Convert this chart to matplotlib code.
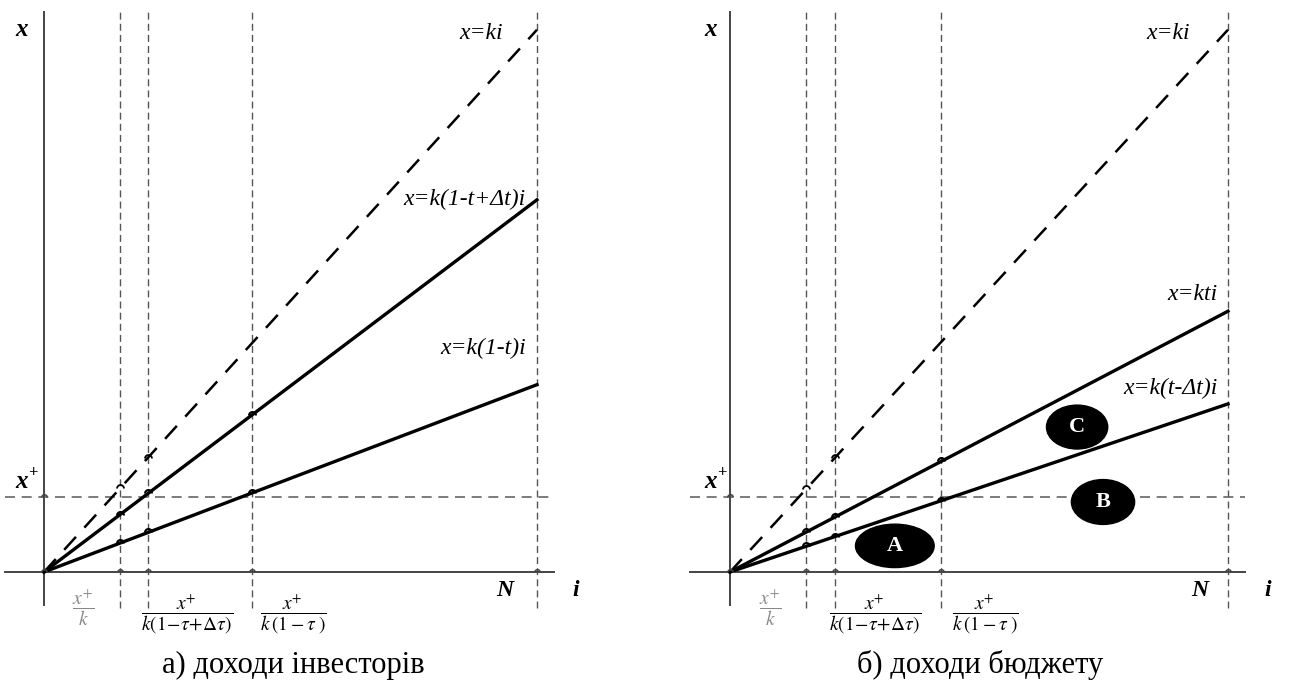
import matplotlib
matplotlib.use("Agg")
import matplotlib.pyplot as plt
import numpy as np
from matplotlib.path import Path
from matplotlib.patches import Ellipse

plt.rcParams['font.family'] = ['Liberation Serif', 'DejaVu Serif']
plt.rcParams['mathtext.fontset'] = 'stix'

# ---------------- data ----------------
N = 10.0
x_plus = 1.52
# vertical reference positions (i values)
left_marks = [1.54, 2.11, 4.22]
right_marks = [1.53, 2.11, 4.24]
# slopes of lines
left_slope_ki = 1.10
left_slopes = [0.755, 0.38]          # k(1-t+Δt), k(1-t)
left_labels = ['x=k(1-t+Δt)i', 'x=k(1-t)i']
right_slope_ki = 1.10
right_slopes = [0.529, 0.341]        # kt, k(t-Δt)
right_labels = ['x=kti', 'x=k(t-Δt)i']
ellipse_labels = ['A', 'B', 'C']
ellipse_centers = [(3.31, 0.53), (7.49, 1.42), (6.97, 2.94)]
ellipse_sizes = [(1.58, 0.88), (1.27, 0.91), (1.23, 0.89)]
frac_labels = [r'$\dfrac{x^{+}}{k}$',
               r'$\dfrac{x^{+}}{k\left(1\!-\!\tau\!+\!\Delta\tau\right)}$',
               r'$\dfrac{x^{+}}{k\,\left(1-\tau\;\right)}$']
captions = ['а) доходи інвесторів', 'б) доходи бюджету']

W, H = 1297, 691
fig = plt.figure(figsize=(W / 100, H / 100), dpi=100)

hop = Path.arc(0, 180)

def panel(left_px, right_px, origin_px, pxu_x, marks, slope_ki, slopes, labels,
          label_pos, frac_pos):
    ax = fig.add_axes([left_px / W, 0, (right_px - left_px) / W, 1])
    pxu_y = 49.3
    ax.set_xlim((left_px - origin_px) / pxu_x, (right_px - origin_px) / pxu_x)
    ax.set_ylim((572 - H) / pxu_y, 572 / pxu_y)
    ax.axis('off')
    top = 11.36
    bot_axis = -0.67
    bot_dash = -0.73
    xl, xr = -0.80, 10.35
    axc = '#444444'
    # axes
    ax.plot([xl, xr], [0, 0], color=axc, lw=1.4, zorder=2)
    ax.plot([0, 0], [bot_axis, top], color=axc, lw=1.4, zorder=2)
    # dashed reference lines
    for m in marks + [N]:
        ax.plot([m, m], [bot_dash, top], color='#555555', lw=1.0,
                dashes=(5, 3), zorder=1)
    ax.plot([xl, xr], [x_plus, x_plus], color='#666666', lw=1.2,
            dashes=(6, 4), zorder=1)
    # rays
    ii = np.array([0, N])
    ax.plot(ii, slope_ki * ii, color='black', lw=1.8, dashes=(7, 5), zorder=3)
    for s in slopes:
        ax.plot(ii, s * ii, color='black', lw=2.4, zorder=3)
    # hops
    hx = [0] + marks + [N]
    ax.plot(hx, [0] * len(hx), ls='none', marker=hop, ms=4, mfc='none',
            mec=axc, mew=1.1, zorder=4)
    ax.plot([0], [x_plus], ls='none', marker=hop, ms=4, mfc='none',
            mec=axc, mew=1.1, zorder=4)
    for s in slopes:
        m = np.array(marks)
        ax.plot(m, s * m, ls='none', marker=hop, ms=5, mfc='none',
                mec='black', mew=1.5, zorder=4)
    m = np.array(marks[:2])
    ax.plot(m, slope_ki * m, ls='none', marker=hop, ms=5, mfc='none',
            mec='black', mew=1.3, zorder=4)
    # labels
    fs = 17
    bx = label_pos['x']
    ax.text(bx, 11.0, 'x', fontsize=18, fontweight='bold',
            style='italic', ha='center', va='center')
    ax.text(bx, 1.83, 'x', fontsize=18, fontweight='bold', style='italic',
            ha='center', va='center')
    ax.text(bx + 0.23, 2.0, '+', fontsize=12, fontweight='bold',
            ha='center', va='center')
    ax.text(label_pos['ki'], 10.93, 'x=ki', fontsize=fs, style='italic',
            ha='right', va='center')
    for (px, py), lab in zip(label_pos['lines'], labels):
        ax.text(px, py, lab, fontsize=fs, style='italic', ha='right', va='center')
    ax.text(label_pos['N'], -0.385, 'N', fontsize=17, fontweight='bold',
            style='italic', ha='center', va='center')
    ax.text(label_pos['i'], -0.385, 'i', fontsize=17, fontweight='bold',
            style='italic', ha='center', va='center')
    cols = ['#888888', 'black', 'black']
    for (fx, fy), lab, c in zip(frac_pos, frac_labels, cols):
        ax.text(fx, fy, lab, fontsize=14, color=c, ha='center', va='center')
    return ax

axL = panel(0, 640, 44, 49.3, left_marks, left_slope_ki, left_slopes, left_labels,
            {'x': -0.45, 'ki': 9.31, 'lines': [(9.76, 7.55), (9.78, 4.54)],
             'N': 9.35, 'i': 10.79},
            [(0.79, -0.72), (2.90, -0.85), (5.05, -0.85)])

axR = panel(650, 1297, 730, 49.8, right_marks, right_slope_ki, right_slopes, right_labels,
            {'x': -0.40, 'ki': 9.24, 'lines': [(9.80, 5.62), (9.80, 3.73)],
             'N': 9.44, 'i': 10.8},
            [(0.82, -0.72), (2.91, -0.85), (5.12, -0.85)])

for (cx, cy), (w, h), lab in zip(ellipse_centers, ellipse_sizes, ellipse_labels):
    axR.add_patch(Ellipse((cx, cy), w, h, facecolor='black', edgecolor='black', zorder=5))
    axR.text(cx, cy, lab, color='white', fontsize=16, fontweight='bold',
             ha='center', va='center', zorder=6)

fig.text(293 / W, 1 - 665 / H, captions[0], fontsize=22, ha='center', va='center')
fig.text(980 / W, 1 - 665 / H, captions[1], fontsize=22, ha='center', va='center')

fig.savefig('out.png', dpi=100)
